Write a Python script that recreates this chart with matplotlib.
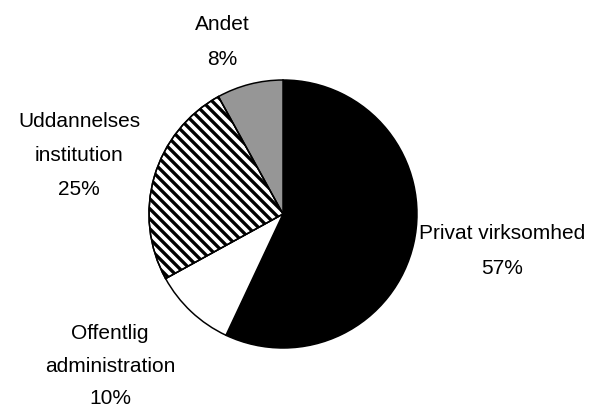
import matplotlib
matplotlib.use("Agg")
import matplotlib.pyplot as plt
import numpy as np
from matplotlib.collections import LineCollection
from matplotlib.patches import Wedge

# Data
categories = ["Privat virksomhed", "Offentlig\nadministration", "Uddannelses\ninstitution", "Andet"]
values = [57, 10, 25, 8]
colors = ["#000000", "#ffffff", "#ffffff", "#969696"]
hatched = [False, False, True, False]

DPI = 60
W, H = 612, 410
plt.rcParams['font.family'] = ['Liberation Sans', 'DejaVu Sans']

fig = plt.figure(figsize=(W / DPI, H / DPI), dpi=DPI)
ax = fig.add_axes([0, 0, 1, 1])

CX, CY, R = 283, H - 214, 134
wedges, _ = ax.pie(values, colors=colors, startangle=90, counterclock=False,
                   center=(CX, CY), radius=R, frame=True,
                   wedgeprops=dict(edgecolor='black', linewidth=1.8))
ax.set_xlim(0, W)
ax.set_ylim(0, H)
ax.set_aspect('equal')
ax.axis('off')

# diagonal stripe texture for hatched wedges
step = 10.0
for w, hflag in zip(wedges, hatched):
    if not hflag:
        continue
    cs = np.arange(CX + CY - 2 * R, CX + CY + 2 * R, step)
    segs = [[(c - CY - R - 5, CY + R + 5), (c - CY + R + 5, CY - R - 5)] for c in cs]
    lc = LineCollection(segs, colors='black', linewidths=4.0, zorder=w.get_zorder() + 0.1)
    ax.add_collection(lc)
    lc.set_clip_path(w)
    ax.add_patch(Wedge(w.center, w.r, w.theta1, w.theta2, fill=False,
                       edgecolor='black', linewidth=1.8, zorder=w.get_zorder() + 0.2))

# label placement: (center x, first baseline y in px from top, line step)
label_pos = [(502, 239, 35), (110, 339, 32.5), (79, 127, 34), (222, 30, 35)]
for cat, v, (x, y0, step_y) in zip(categories, values, label_pos):
    lines = cat.split("\n") + [f"{v}%"]
    for i, line in enumerate(lines):
        ax.text(x, H - (y0 + i * step_y), line, ha='center', va='baseline',
                fontsize=25, color='black')

fig.savefig("out.png", dpi=DPI, facecolor='white')
